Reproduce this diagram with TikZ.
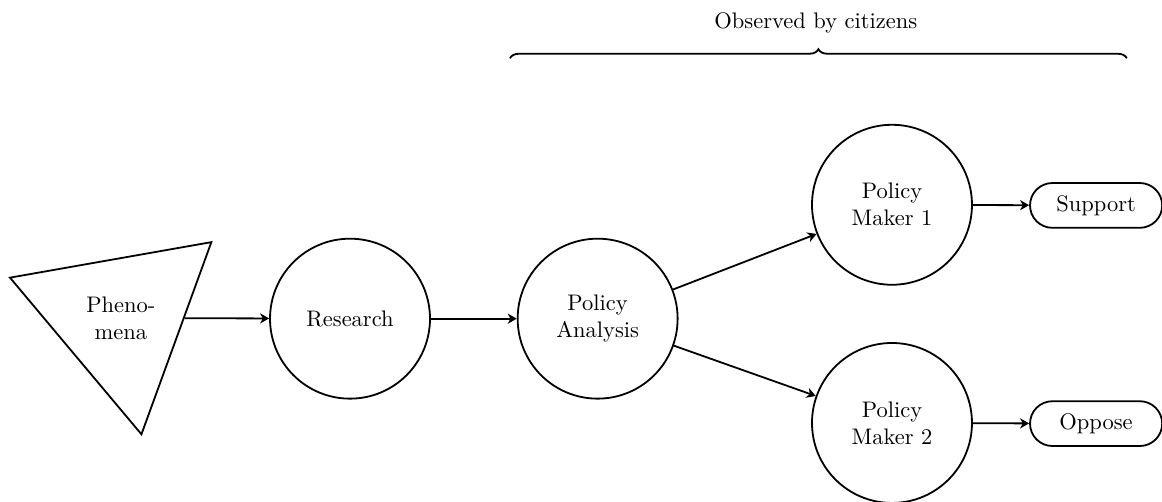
\documentclass[tikz,border=0pt]{standalone}
\usepackage{tikz}
\usetikzlibrary{shapes.geometric,shapes.misc,decorations.pathreplacing,arrows.meta}

\begin{document}
\begin{tikzpicture}[
  stage/.style={circle, draw, thick, minimum size=2.5cm, align=center, inner sep=1pt},
  verdict/.style={rounded rectangle, draw, thick, minimum width=2.3cm, minimum height=0.7cm},
  flow/.style={thick, -{Stealth[length=4pt,width=4.5pt,inset=1.2pt]}}
]
\useasboundingbox (0,0) rectangle (18.16,-7.84);

% Where it starts
\node[regular polygon, regular polygon sides=3, shape border rotate=190, draw, thick,
      minimum size=3.69cm, inner sep=0pt, align=center] (phen) at (1.89,-4.97) {Pheno-\\mena};

% Chain of stages
\node[stage] (res) at (5.47,-4.98) {Research};
\node[stage] (pa) at (9.34,-4.98) {Policy\\Analysis};
\node[stage] (pm1) at (13.94,-3.20) {Policy\\Maker 1};
\node[stage] (pm2) at (13.94,-6.61) {Policy\\Maker 2};

% Outcomes
\node[verdict] (sup) at (17.13,-3.21) {Support};
\node[verdict] (opp) at (17.13,-6.62) {Oppose};

% Arrows
\draw[flow] (phen) -- (res);
\draw[flow] (res) -- (pa);
\draw[flow] (pa) -- (pm1);
\draw[flow] (pa) -- (pm2);
\draw[flow] (pm1) -- (sup);
\draw[flow] (pm2) -- (opp);

% Brace on top
\coordinate (bl) at (7.97,-0.91);
\coordinate (br) at (17.61,-0.91);
\draw[thick, decorate, decoration={brace, amplitude=4pt}] (bl) -- (br);
\node (obs) at (12.75,-0.36) {Observed by citizens};
\end{tikzpicture}
\end{document}
